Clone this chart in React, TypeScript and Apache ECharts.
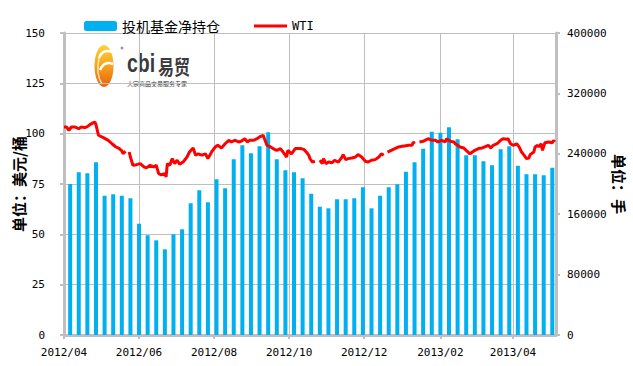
import React, { useEffect, useRef } from "react";
import * as echarts from "echarts";

// ---------- data ----------
const axisStart = "2012-04-01";
const axisEnd = "2013-05-06";
const firstBarDate = "2012-04-06"; // weekly bars (Fridays)

// 投机基金净持仓 (手)
const netPositions = [
  200000, 215500, 214200, 228700, 184500, 186400, 184500, 181100, 147400, 132100,
  125400, 113500, 133400, 140000, 174400, 191700, 175800, 206200, 194300, 232700,
  251300, 240700, 249900, 268500, 232700, 218100, 215500, 207500, 187100, 169900,
  167800, 179700, 179700, 181100, 195600, 167800, 184500, 195600, 199600, 216300,
  228700, 246800, 269300, 267900, 275100, 259200, 238000, 238000, 230100, 224800,
  246000, 249900, 224200, 212800, 212800, 211500, 221600,
];

// WTI (美元/桶)
const wtiDates = [
  "2012-04-01", "2012-04-03", "2012-04-05", "2012-04-07", "2012-04-10", "2012-04-13", "2012-04-15", "2012-04-18", "2012-04-20", "2012-04-22",
  "2012-04-25", "2012-04-26", "2012-04-27", "2012-04-29", "2012-05-03", "2012-05-07", "2012-05-10", "2012-05-13", "2012-05-16", "2012-05-18",
  "2012-05-19", "2012-05-21", "2012-05-22", "2012-05-24", "2012-05-25", "2012-05-27", "2012-05-30", "2012-06-02", "2012-06-05", "2012-06-07",
  "2012-06-10", "2012-06-13", "2012-06-15", "2012-06-17", "2012-06-19", "2012-06-22", "2012-06-23", "2012-06-24", "2012-06-26", "2012-06-28",
  "2012-06-30", "2012-07-02", "2012-07-04", "2012-07-07", "2012-07-10", "2012-07-12", "2012-07-15", "2012-07-17", "2012-07-19", "2012-07-22",
  "2012-07-25", "2012-07-27", "2012-07-30", "2012-08-02", "2012-08-04", "2012-08-07", "2012-08-10", "2012-08-13", "2012-08-15", "2012-08-18",
  "2012-08-21", "2012-08-23", "2012-08-26", "2012-08-28", "2012-08-30", "2012-09-02", "2012-09-05", "2012-09-07", "2012-09-10", "2012-09-11",
  "2012-09-13", "2012-09-16", "2012-09-18", "2012-09-21", "2012-09-24", "2012-09-26", "2012-09-29", "2012-09-30", "2012-10-03", "2012-10-06",
  "2012-10-10", "2012-10-13", "2012-10-15", "2012-10-17", "2012-10-18", "2012-10-20", "2012-10-22", "2012-10-23", "2012-10-26", "2012-10-28",
  "2012-10-29", "2012-10-31", "2012-11-02", "2012-11-05", "2012-11-07", "2012-11-10", "2012-11-13", "2012-11-14", "2012-11-16", "2012-11-18",
  "2012-11-21", "2012-11-24", "2012-11-26", "2012-11-29", "2012-12-02", "2012-12-04", "2012-12-07", "2012-12-10", "2012-12-13", "2012-12-15",
  "2012-12-17", "2012-12-18", "2012-12-20", "2012-12-23", "2012-12-26", "2012-12-29", "2013-01-01", "2013-01-03", "2013-01-06", "2013-01-09",
  "2013-01-10", "2013-01-11", "2013-01-12", "2013-01-15", "2013-01-18", "2013-01-22", "2013-01-25", "2013-01-28", "2013-01-30", "2013-02-02",
  "2013-02-05", "2013-02-06", "2013-02-09", "2013-02-12", "2013-02-13", "2013-02-15", "2013-02-17", "2013-02-20", "2013-02-22", "2013-02-25",
  "2013-02-27", "2013-03-01", "2013-03-04", "2013-03-07", "2013-03-09", "2013-03-12", "2013-03-14", "2013-03-16", "2013-03-19", "2013-03-22",
  "2013-03-24", "2013-03-27", "2013-03-28", "2013-03-30", "2013-04-01", "2013-04-03", "2013-04-04", "2013-04-06", "2013-04-08", "2013-04-10",
  "2013-04-12", "2013-04-14", "2013-04-15", "2013-04-18", "2013-04-19", "2013-04-21", "2013-04-22", "2013-04-24", "2013-04-25", "2013-04-27",
  "2013-04-30", "2013-05-03", "2013-05-04", "2013-05-05",
];
const wtiValues: (number | null)[] = [
  103.3, 103.3, 101.7, 103.3, 103.3, 102.5, 103.3, 103.0, 103.5, 104.5,
  105.5, 105.8, 104.5, 99.2, 98.0, 96.7, 95.0, 93.5, 92.6, 91.5,
  90.0, 91.3, null, 90.9, 88.4, 84.3, 84.6, 85.1, 83.5, 83.0,
  84.3, 83.5, 84.3, 80.1, 79.6, 80.1, 78.5, 85.1, 84.3, 87.6,
  85.1, 86.8, 84.8, 86.0, 88.4, 90.9, 92.9, 89.3, 90.0, 89.3,
  90.0, 87.6, 90.9, 93.4, 94.2, 92.9, 95.0, 96.7, 95.9, 96.7,
  95.9, 96.2, 97.5, 95.9, 96.7, 96.7, 97.5, 98.4, 99.2, 97.5,
  94.2, 93.4, 92.6, 91.7, 92.6, 90.9, 88.4, 91.7, 90.0, 92.6,
  92.6, 92.2, 90.9, 89.3, 87.6, 85.9, 86.3, null, 86.8, 85.1,
  87.6, 85.1, 85.9, 85.6, 86.8, 85.9, 88.4, 89.6, 87.1, 87.6,
  87.9, 88.4, 89.6, 88.4, 86.3, 85.9, 86.8, 87.1, 88.4, 90.0,
  89.3, null, 90.8, 91.7, 92.6, 93.4, 93.7, 93.9, 94.2, 94.2,
  95.9, 95.0, null, 95.9, 96.2, 97.5, 96.7, 96.7, 95.9, 96.7,
  95.9, 97.5, 96.2, 95.9, 95.0, 94.2, 93.4, 92.9, 91.7, 90.0,
  90.9, 91.7, 92.6, 92.9, 93.4, 94.2, 92.9, 94.2, 95.0, 96.7,
  97.5, 97.2, 97.5, 95.0, 94.2, 94.6, 95.0, 93.4, 90.9, 89.3,
  87.6, 87.9, 89.6, 90.9, 93.4, 94.2, 93.4, 95.0, 91.7, 95.5,
  95.9, 95.5, 96.7, 95.9,
];

const barName = "投机基金净持仓";
const lineName = "WTI";
const leftAxisName = "单位：美元/桶";
const rightAxisName = "单位：手";
const logoText = "cbi";
const logoCn = "易贸";
const logoSub = "大宗商品交易服务专家";

// ---------- helpers ----------
function addDays(iso: string, n: number): string {
  const d = new Date(iso + "T00:00:00Z");
  d.setUTCDate(d.getUTCDate() + n);
  return d.toISOString().slice(0, 10);
}
function dayRange(a: string, b: string): string[] {
  const out: string[] = [];
  let cur = a;
  while (cur <= b) {
    out.push(cur);
    cur = addDays(cur, 1);
  }
  return out;
}
const isTick = (_i: number, v: string) =>
  v.slice(8) === "01" && parseInt(v.slice(5, 7), 10) % 2 === 0;

const GRAY = "#BFBFBF";
const MONO = "'DejaVu Sans Mono', 'Liberation Mono', monospace";
const CJK = "'Noto Sans CJK SC', 'Noto Sans', sans-serif";
// thin line legend icon: invisible corner points keep the box 33x10, bar 3px high in the middle
const LINE_ICON = "path://M0,0L0,0M0,3.6L33,3.6L33,6.4L0,6.4ZM33,10L33,10";

export default function App() {
  const ref = useRef<HTMLDivElement>(null);
  useEffect(() => {
    if (!ref.current) return;
    const chart = echarts.init(ref.current, undefined, { renderer: "svg" });
    const days = dayRange(axisStart, axisEnd);
    const barData = netPositions.map((v, k) => [addDays(firstBarDate, 7 * k), v]);
    const lineData = wtiDates.map((d, i) => [d, wtiValues[i] == null ? "-" : wtiValues[i]]);

    chart.setOption({
      animation: false,
      backgroundColor: "#ffffff",
      grid: {
        left: 64,
        right: 77,
        top: 33,
        bottom: 31,
        containLabel: false,
        outerBoundsMode: "none",
      },
      legend: {
        left: 79,
        top: 14,
        itemWidth: 33,
        itemHeight: 10,
        itemGap: 34,
        data: [
          { name: barName, icon: "roundRect" },
          { name: lineName, icon: LINE_ICON },
        ],
        formatter: (n: string) => (n === lineName ? "{w|" + n + "}" : n),
        textStyle: {
          fontFamily: CJK,
          fontSize: 14,
          color: "#000",
          rich: { w: { fontFamily: MONO, fontSize: 12, color: "#000" } },
        },
      },
      xAxis: {
        type: "category",
        data: days,
        boundaryGap: false,
        axisLine: { show: true, lineStyle: { color: GRAY, width: 3 } },
        axisTick: { show: true, interval: isTick, length: 4, lineStyle: { color: GRAY, width: 2 } },
        axisLabel: {
          interval: isTick,
          formatter: (v: string) => v.slice(0, 4) + "/" + v.slice(5, 7),
          fontFamily: MONO,
          fontSize: 11,
          color: "#000",
          margin: 12,
        },
        splitLine: { show: true, interval: isTick, lineStyle: { color: GRAY, width: 1 } },
      },
      yAxis: [
        {
          type: "value",
          position: "left",
          min: 0,
          max: 150,
          interval: 25,
          name: leftAxisName,
          nameLocation: "middle",
          nameRotate: 90,
          nameGap: 38,
          nameMoveOverlap: false,
          nameTextStyle: { fontFamily: CJK, fontSize: 15, fontWeight: "bold", color: "#000" },
          axisLine: { show: true, lineStyle: { color: GRAY, width: 3 } },
          axisTick: { show: true, length: 4, lineStyle: { color: GRAY, width: 2 } },
          axisLabel: { fontFamily: MONO, fontSize: 11, color: "#000", margin: 19 },
          splitLine: { show: true, lineStyle: { color: GRAY, width: 1 } },
        },
        {
          type: "value",
          position: "right",
          min: 0,
          max: 400000,
          interval: 80000,
          name: rightAxisName,
          nameLocation: "middle",
          nameRotate: -90,
          nameGap: 56,
          nameMoveOverlap: false,
          nameTextStyle: { fontFamily: CJK, fontSize: 15, fontWeight: "bold", color: "#000" },
          axisLine: { show: true, lineStyle: { color: GRAY, width: 3 } },
          axisTick: { show: true, length: 4, lineStyle: { color: GRAY, width: 2 } },
          axisLabel: {
            fontFamily: MONO,
            fontSize: 11,
            color: "#000",
            margin: 11,
            formatter: (v: number) => String(v),
          },
          splitLine: { show: false },
        },
      ],
      series: [
        {
          name: barName,
          type: "bar",
          yAxisIndex: 1,
          barWidth: 4,
          itemStyle: { color: "#00B0F0" },
          data: barData,
          z: 2,
        },
        {
          name: lineName,
          type: "line",
          yAxisIndex: 0,
          symbol: "none",
          connectNulls: false,
          lineStyle: { color: "#FF0000", width: 3 },
          itemStyle: { color: "#FF0000" },
          data: lineData,
          z: 3,
        },
      ],
      graphic: [
        {
          type: "group",
          z: 100,
          children: [
            { type: "rect", shape: { x: 90, y: 40, width: 103, height: 57 }, style: { fill: "#ffffff" } },
            {
              type: "ellipse",
              shape: { cx: 104, cy: 66, rx: 9.5, ry: 21 },
              style: {
                fill: new echarts.graphic.LinearGradient(0, 0, 0, 1, [
                  { offset: 0, color: "#FFD23A" },
                  { offset: 0.5, color: "#F7A21B" },
                  { offset: 1, color: "#E8620F" },
                ]),
              },
            },
            {
              type: "bezierCurve",
              shape: { x1: 99, y1: 58, x2: 113, y2: 52, cpx1: 102, cpy1: 50, cpx2: 108, cpy2: 50 },
              style: { stroke: "#ffffff", lineWidth: 2.5, fill: null },
            },
            {
              type: "bezierCurve",
              shape: { x1: 100, y1: 70, x2: 113, y2: 64, cpx1: 103, cpy1: 63, cpx2: 108, cpy2: 62 },
              style: { stroke: "#ffffff", lineWidth: 2.5, fill: null },
            },
            {
              type: "bezierCurve",
              shape: { x1: 99, y1: 58, x2: 102, y2: 84, cpx1: 97, cpy1: 68, cpx2: 98, cpy2: 78 },
              style: { stroke: "#FCE3B0", lineWidth: 1.5, fill: null },
            },
            { type: "circle", shape: { cx: 122, cy: 48, r: 1.5 }, style: { fill: "#999" } },
            {
              type: "text",
              x: 127,
              y: 76,
              scaleX: 0.75,
              style: {
                text: logoText,
                font: "bold 26px 'Liberation Sans', Arial, sans-serif",
                fill: "#3a3a3a",
                verticalAlign: "bottom",
              },
            },
            {
              type: "text",
              x: 158,
              y: 76,
              scaleX: 0.8,
              style: {
                text: logoCn,
                font: "bold 20px 'Noto Sans CJK SC', sans-serif",
                fill: "#3a3a3a",
                verticalAlign: "bottom",
              },
            },
            {
              type: "text",
              x: 127,
              y: 80,
              style: {
                text: logoSub,
                font: "6px 'Noto Sans CJK SC', sans-serif",
                fill: "#333",
                verticalAlign: "top",
              },
            },
          ],
        },
      ],
    });
    return () => chart.dispose();
  }, []);
  return (
    <div
      ref={ref}
      style={{ position: "fixed", left: 0, top: 0, width: 633, height: 366, background: "#fff" }}
    />
  );
}
